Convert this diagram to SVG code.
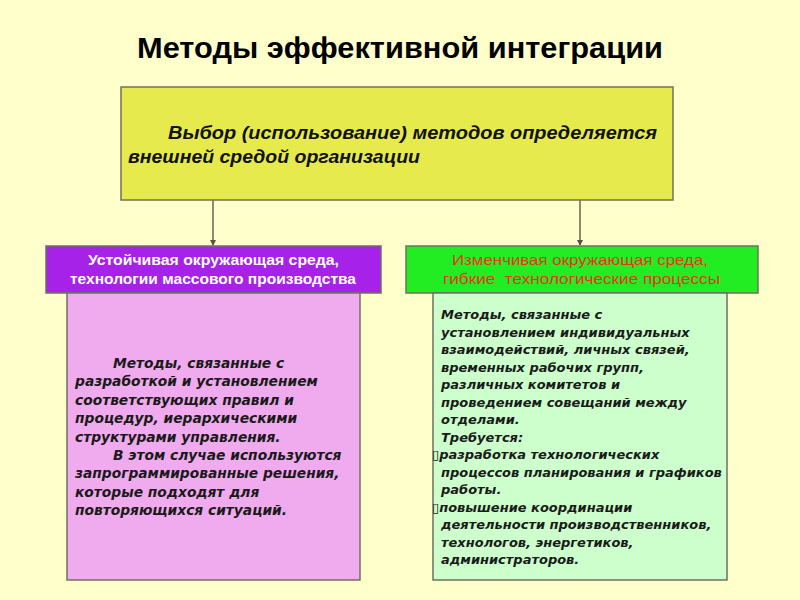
<svg xmlns="http://www.w3.org/2000/svg" width="800" height="600" viewBox="0 0 800 600">
<style>
.box{stroke:#707060;stroke-width:1.5}
.title{font-family:"Liberation Sans",Arial,sans-serif;font-weight:bold;font-size:29px;fill:#000}
.main{font-family:"Liberation Sans",Arial,sans-serif;font-style:italic;font-weight:bold;font-size:18px;fill:#111}
.hdr{font-family:"Liberation Sans",Arial,sans-serif;font-size:15px}
.body{font-family:"DejaVu Sans",Verdana,sans-serif;font-style:italic;font-weight:bold;fill:#1a1a1a}
.conn{stroke:#666655;stroke-width:1.5;fill:none}
</style>
<defs>
<marker id="arr" markerWidth="6" markerHeight="6" refX="5" refY="3" orient="auto" markerUnits="userSpaceOnUse">
<path d="M0,0 L6,3 L0,6 z" fill="#555544"/>
</marker>
</defs>
<rect width="800" height="600" fill="#FFFFCC"/>
<text class="title" x="137" y="58" textLength="526" lengthAdjust="spacingAndGlyphs">Методы эффективной интеграции</text>
<g id="connectors">
<line class="conn" x1="213" y1="200" x2="213" y2="245" marker-end="url(#arr)"/>
<line class="conn" x1="580" y1="200" x2="580" y2="245" marker-end="url(#arr)"/>
</g>
<g id="node-main">
<rect class="box" x="121" y="87" width="552" height="113" fill="#E6EA4C"/>
<text class="main" x="168" y="139" textLength="489" lengthAdjust="spacingAndGlyphs">Выбор (использование) методов определяется</text>
<text class="main" x="128" y="163" textLength="292" lengthAdjust="spacingAndGlyphs">внешней средой организации</text>
</g>
<g id="node-stable">
<rect class="box" x="46" y="246" width="335" height="47" fill="#A622E8"/>
<text class="hdr" x="88" y="265" fill="#fff" font-weight="bold" textLength="251" lengthAdjust="spacingAndGlyphs">Устойчивая окружающая среда,</text>
<text class="hdr" x="70" y="284" fill="#fff" font-weight="bold" textLength="286" lengthAdjust="spacingAndGlyphs">технологии массового производства</text>
</g>
<g id="node-stable-body">
<rect class="box" x="67" y="293" width="293" height="287" fill="#F0AAEE"/>
<text class="body" font-size="13.8">
<tspan x="113" y="368">Методы, связанные с</tspan>
<tspan x="75" y="386.4">разработкой и установлением</tspan>
<tspan x="75" y="404.8">соответствующих правил и</tspan>
<tspan x="75" y="423.2">процедур, иерархическими</tspan>
<tspan x="75" y="441.6">структурами управления.</tspan>
<tspan x="113" y="460">В этом случае используются</tspan>
<tspan x="75" y="478.4">запрограммированные решения,</tspan>
<tspan x="75" y="496.8">которые подходят для</tspan>
<tspan x="75" y="515.2">повторяющихся ситуаций.</tspan>
</text>
</g>
<g id="node-variable">
<rect class="box" x="406" y="246" width="352" height="47" fill="#22EC22"/>
<text class="hdr" x="452" y="265" fill="#E8341E" textLength="256" lengthAdjust="spacingAndGlyphs">Изменчивая окружающая среда,</text>
<text class="hdr" x="443" y="284" fill="#E8341E" xml:space="preserve" textLength="277" lengthAdjust="spacingAndGlyphs">гибкие  технологические процессы</text>
</g>
<g id="node-variable-body">
<rect class="box" x="433" y="293" width="294" height="287" fill="#CCFFCC"/>
<text class="body" font-size="13">
<tspan x="441" y="319">Методы, связанные с</tspan>
<tspan x="441" y="336.5">установлением индивидуальных</tspan>
<tspan x="441" y="354">взаимодействий, личных связей,</tspan>
<tspan x="441" y="371.5">временных рабочих групп,</tspan>
<tspan x="441" y="389">различных комитетов и</tspan>
<tspan x="441" y="406.5">проведением совещаний между</tspan>
<tspan x="441" y="424">отделами.</tspan>
<tspan x="441" y="441.5">Требуется:</tspan>
<tspan x="432" y="459">▯разработка технологических</tspan>
<tspan x="441" y="476.5">процессов планирования и графиков</tspan>
<tspan x="441" y="494">работы.</tspan>
<tspan x="432" y="511.5">▯повышение координации</tspan>
<tspan x="441" y="529">деятельности производственников,</tspan>
<tspan x="441" y="546.5">технологов, энергетиков,</tspan>
<tspan x="441" y="564">администраторов.</tspan>
</text>
</g>
</svg>
